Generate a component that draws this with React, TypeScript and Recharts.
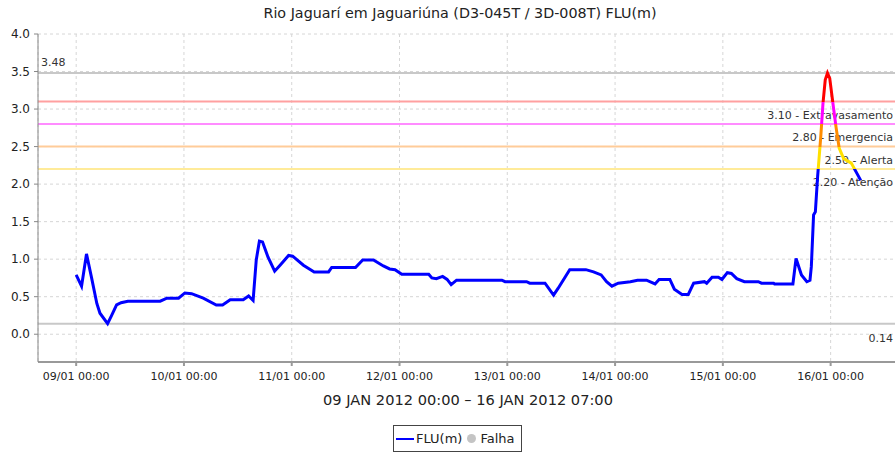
import {
  LineChart,
  Line,
  XAxis,
  YAxis,
  CartesianGrid,
  ReferenceLine,
} from "recharts";

// hours since 09/01/2012 00:00
const hours = [
  0, 1.2, 2.3, 3.4, 4.6, 5.3, 7, 7.9, 9, 10, 11.5, 18.7, 20.2, 22.8, 24.2, 25.7,
  28.3, 31.2, 32.6, 34.3, 37.2, 38.4, 39.4, 40.1, 40.8, 41.5, 42.7, 44.2, 45.4,
  47.3, 48.2, 50.6, 53, 56.2, 56.9, 62.2, 63.8, 66.2, 68.4, 69.8, 71, 72.5, 78.5,
  79.2, 80.2, 81.6, 82.6, 83.5, 84.7, 94.8, 95.5, 100.3, 101, 104.4, 106.3,
  107.3, 109.9, 113.5, 115.2, 116.9, 118.1, 119.3, 120.7, 123.4, 125, 127,
  128.9, 129.8, 132.2, 133.2, 134.9, 136.3, 137.5, 139.9, 140.4, 141.6, 143,
  143.8, 145, 145.9, 147.1, 148.8, 151.9, 152.6, 155.3, 155.5, 159.6, 160.3,
  161.5, 162.7, 163.4, 163.7, 164.2, 164.6, 165.1, 165.8, 166.3, 166.8, 167.3,
  167.8, 168.5, 169.2, 169.9, 170.9, 172.6, 174.7,
];
const levels = [
  0.79, 0.64, 1.07, 0.76, 0.41, 0.28, 0.14, 0.25, 0.39, 0.42, 0.44, 0.44, 0.48,
  0.48, 0.55, 0.54, 0.48, 0.39, 0.39, 0.46, 0.46, 0.51, 0.45, 0.99, 1.24, 1.23,
  1.03, 0.84, 0.92, 1.05, 1.04, 0.92, 0.83, 0.83, 0.89, 0.89, 0.99, 0.99, 0.91,
  0.87, 0.86, 0.8, 0.8, 0.75, 0.74, 0.77, 0.73, 0.66, 0.72, 0.72, 0.7, 0.7,
  0.68, 0.68, 0.52, 0.61, 0.86, 0.86, 0.83, 0.79, 0.7, 0.64, 0.68, 0.7, 0.72,
  0.72, 0.67, 0.73, 0.73, 0.6, 0.53, 0.53, 0.68, 0.7, 0.68, 0.76, 0.76, 0.73,
  0.82, 0.81, 0.74, 0.7, 0.7, 0.68, 0.68, 0.67, 0.67, 1.01, 0.79, 0.7, 0.72,
  0.9, 1.59, 1.63, 2.1, 2.63, 3.08, 3.39, 3.48, 3.41, 3.08, 2.76, 2.48, 2.34,
  2.28, 2.05,
];

const dayLabels = [
  "09/01 00:00",
  "10/01 00:00",
  "11/01 00:00",
  "12/01 00:00",
  "13/01 00:00",
  "14/01 00:00",
  "15/01 00:00",
  "16/01 00:00",
];
const levelTicks = [0, 0.5, 1, 1.5, 2, 2.5, 3, 3.5, 4];

const limitValues = [3.1, 2.8, 2.5, 2.2];
const limitNames = ["Extravasamento", "Emergencia", "Alerta", "Atenção"];
const limitLineColors = ["#ffa0a0", "#ff8cff", "#ffcc99", "#ffeb99"];
const limitSegmentColors = ["#ff0000", "#ff00ff", "#ff8c00", "#ffe000"];

const data = hours.map((h, i) => ({ hour: h, flu: levels[i] }));
const maxLevel = Math.max(...levels);
const minLevel = Math.min(...levels);

const FONT = "'DejaVu Sans', sans-serif";

// gradient offset inside the line's bounding box for a given level
const off = (v: number) => (maxLevel - v) / (maxLevel - minLevel);

function LimitLabel({ viewBox, text }: any) {
  return (
    <text
      x={viewBox.x + viewBox.width - 5}
      y={viewBox.y + 17}
      textAnchor="end"
      fontSize={11}
      fontFamily={FONT}
      fill="#333"
    >
      {text}
    </text>
  );
}

export default function App() {
  return (
    <div
      style={{
        position: "absolute",
        left: 0,
        top: 0,
        width: 895,
        height: 455,
        overflow: "hidden",
        background: "#fff",
        fontFamily: FONT,
      }}
    >
      <div
        style={{
          position: "absolute",
          left: -5,
          width: 930,
          top: 5,
          textAlign: "center",
          fontSize: 14.3,
          color: "#222",
        }}
      >
        Rio Jaguarí em Jaguariúna (D3-045T / 3D-008T) FLU(m)
      </div>

      <LineChart
        width={910}
        height={455}
        data={data}
        margin={{ top: 34, right: 12, left: 0, bottom: 63 }}
      >
        <defs>
          <linearGradient id="fluStroke" x1="0" y1="0" x2="0" y2="1">
            <stop offset={0} stopColor={limitSegmentColors[0]} />
            {limitValues.map((v, i) => [
              <stop key={`a${i}`} offset={off(v)} stopColor={limitSegmentColors[i]} />,
              <stop
                key={`b${i}`}
                offset={off(v)}
                stopColor={i < limitValues.length - 1 ? limitSegmentColors[i + 1] : "#0000ff"}
              />,
            ])}
            <stop offset={1} stopColor="#0000ff" />
          </linearGradient>
        </defs>
        <CartesianGrid stroke="#d6d6d6" strokeDasharray="3 3" />
        <XAxis
          type="number"
          dataKey="hour"
          domain={[-8.5, 183]}
          ticks={dayLabels.map((_, i) => i * 24)}
          tickFormatter={(h: number) => dayLabels[Math.round(h / 24)]}
          interval={0}
          height={30}
          tickSize={4}
          tickMargin={6}
          stroke="#999"
          strokeWidth={2}
          tick={{ fontSize: 11, fill: "#222", fontFamily: FONT }}
        />
        <YAxis
          type="number"
          domain={[-0.37, 4]}
          ticks={levelTicks}
          tickFormatter={(v: number) => v.toFixed(1)}
          width={38}
          tickSize={4}
          tickMargin={4}
          stroke="#888"
          tick={{ fontSize: 12, fill: "#222", fontFamily: FONT }}
        />
        {limitValues.map((v, i) => (
          <ReferenceLine
            key={v}
            y={v}
            stroke={limitLineColors[i]}
            strokeWidth={2}
            label={(p: any) => (
              <LimitLabel viewBox={p.viewBox} text={`${v.toFixed(2)} - ${limitNames[i]}`} />
            )}
          />
        ))}
        <ReferenceLine
          y={maxLevel}
          stroke="#c8c8c8"
          strokeWidth={2}
          label={(p: any) => (
            <text
              x={p.viewBox.x + 3}
              y={p.viewBox.y - 7}
              fontSize={11}
              fontFamily={FONT}
              fill="#333"
            >
              {maxLevel.toFixed(2)}
            </text>
          )}
        />
        <ReferenceLine
          y={minLevel}
          stroke="#c8c8c8"
          strokeWidth={2}
          label={(p: any) => (
            <text
              x={p.viewBox.x + p.viewBox.width - 5}
              y={p.viewBox.y + 18}
              textAnchor="end"
              fontSize={11}
              fontFamily={FONT}
              fill="#333"
            >
              {minLevel.toFixed(2)}
            </text>
          )}
        />
        <Line
          type="linear"
          dataKey="flu"
          stroke="url(#fluStroke)"
          strokeWidth={3}
          dot={false}
          isAnimationActive={false}
        />
      </LineChart>

      <div
        style={{
          position: "absolute",
          left: 0,
          width: 936,
          top: 391,
          textAlign: "center",
          fontSize: 14.6,
          color: "#222",
        }}
      >
        09 JAN 2012 00:00 – 16 JAN 2012 07:00
      </div>

      <div
        style={{
          position: "absolute",
          left: 393,
          top: 425,
          width: 127,
          height: 25,
          border: "1px solid #444",
          display: "flex",
          alignItems: "center",
          fontSize: 13,
          color: "#222",
          background: "#fff",
        }}
      >
        <span
          style={{
            display: "inline-block",
            width: 18,
            height: 2,
            background: "#0000ff",
            marginLeft: 2,
            marginRight: 2,
          }}
        />
        <span>FLU(m)</span>
        <span
          style={{
            display: "inline-block",
            width: 9,
            height: 9,
            borderRadius: "50%",
            background: "#c4c4c4",
            marginLeft: 5,
            marginRight: 4,
          }}
        />
        <span>Falha</span>
      </div>
    </div>
  );
}
